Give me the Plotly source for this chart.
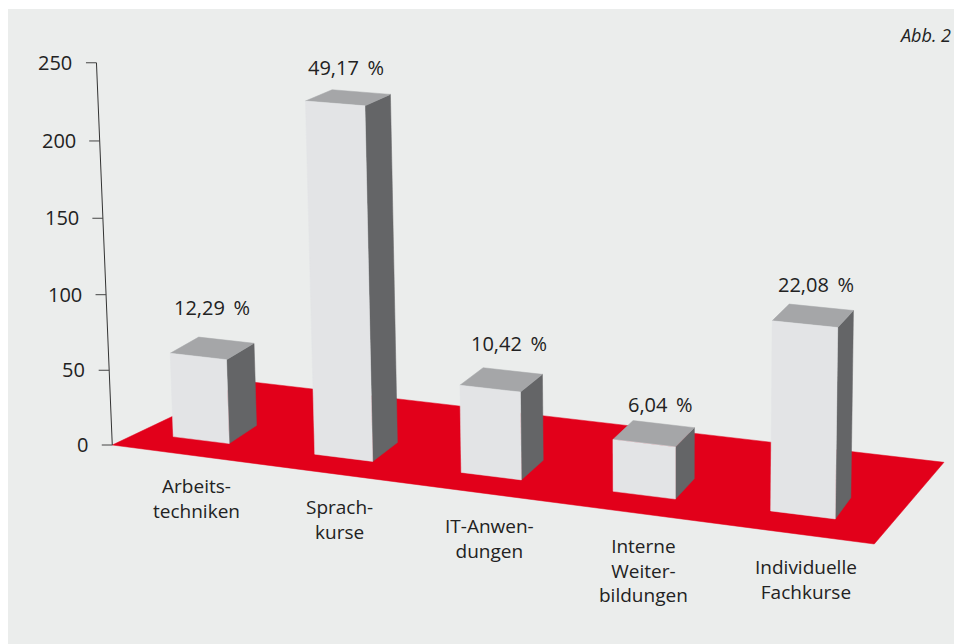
import numpy as np
import plotly.graph_objects as go

# Chart data
categories = ["Arbeits-<br>techniken", "Sprach-<br>kurse", "IT-Anwen-<br>dungen",
              "Interne<br>Weiter-<br>bildungen", "Individuelle<br>Fachkurse"]
shares = [12.29, 49.17, 10.42, 6.04, 22.08]   # percent of all participants
participants_total = 480
axis_ticks = [0, 50, 100, 150, 200, 250]

# Perspective: per-bar height factor, as the bars stand in the scene
height_factor = [0.954, 0.975, 1.14, 1.152, 1.125]

# Camera matrix: scene (category, depth, count) -> page pixels
CAMERA = np.array([
    [1.36521053e+02, 3.27356869e+01, -7.34676357e-02, 2.01134488e+02],
    [9.79429402e+00, -8.88218775e+00, -1.52478267e+00, 4.40067845e+02],
    [-1.73169384e-02, 2.15245981e-02, -1.10479646e-04, 1.00000000e+00],
])
BAR_WIDTH = 0.40
FLOOR = [(-0.483, -0.725), (-0.294, 3.156), (4.602, 3.169), (4.515, -0.834)]

# Label placement on the page
VALUE_LABEL_POS = [(212, 307), (346, 67), (509, 343), (660, 404), (816, 284)]
CATEGORY_LABEL_POS = [(196, 498.5), (339.5, 519), (489, 538), (643.5, 570.5), (806, 579)]

RED, FRONT, SIDE, TOP = "#e2001a", "#e3e4e6", "#646567", "#a5a6a8"
PANEL, INK = "#ebedec", "#222222"
FONT = "Open Sans"


def project(x, depth, z):
    h = CAMERA @ np.array([x, depth, z, 1.0])
    return h[0] / h[2], h[1] / h[2]


def face(points, color):
    px = [project(*p) for p in points + points[:1]]
    return go.Scatter(x=[p[0] for p in px], y=[p[1] for p in px], mode="lines",
                      fill="toself", fillcolor=color,
                      line=dict(color=color, width=0.5),
                      hoverinfo="skip", showlegend=False)


fig = go.Figure()

# Red floor
fig.add_trace(face([(x, d, 0) for x, d in FLOOR], RED))

# Bars: side, top and front faces
for i, share in enumerate(shares):
    h = share / 100 * participants_total * height_factor[i]
    l, r = i - BAR_WIDTH / 2, i + BAR_WIDTH / 2
    fig.add_trace(face([(r, 0, 0), (r, 1, 0), (r, 1, h), (r, 0, h)], SIDE))
    fig.add_trace(face([(l, 0, h), (r, 0, h), (r, 1, h), (l, 1, h)], TOP))
    fig.add_trace(face([(l, 0, 0), (r, 0, 0), (r, 0, h), (l, 0, h)], FRONT))

# Value axis standing on the floor corner
ax_x, ax_d = FLOOR[0]
base = project(ax_x, ax_d, axis_ticks[0])
peak = project(ax_x, ax_d, axis_ticks[-1])
fig.add_trace(go.Scatter(x=[base[0], peak[0]], y=[base[1], peak[1]], mode="lines",
                         line=dict(color="#333333", width=1),
                         hoverinfo="skip", showlegend=False))

annotations = []
for t in axis_ticks:
    px, py = project(ax_x, ax_d, t)
    fig.add_trace(go.Scatter(x=[px - 10.5, px], y=[py, py], mode="lines",
                             line=dict(color="#444444", width=1),
                             hoverinfo="skip", showlegend=False))
    annotations.append(dict(x=px - 22, y=py - 0.5, text=str(t), xanchor="right", yanchor="middle",
                            showarrow=False, font=dict(family=FONT, size=20, color=INK)))

for share, (lx, ly) in zip(shares, VALUE_LABEL_POS):
    annotations.append(dict(x=lx, y=ly, text=f"{share:.2f}".replace(".", ",") + "\u00a0\u2009%",
                            showarrow=False, xanchor="center", yanchor="middle",
                            font=dict(family=FONT, size=20, color=INK)))

for cat, (lx, ly) in zip(categories, CATEGORY_LABEL_POS):
    annotations.append(dict(x=lx, y=ly, text=cat, showarrow=False, align="center",
                            xanchor="center", yanchor="middle",
                            font=dict(family=FONT, size=19, color=INK)))

annotations.append(dict(x=953, y=35, text="<i>Abb. 2</i>", showarrow=False,
                        xanchor="right", yanchor="middle",
                        font=dict(family=FONT, size=18, color=INK)))

fig.update_layout(
    width=954, height=644, margin=dict(l=0, r=0, t=0, b=0),
    paper_bgcolor="white", plot_bgcolor="white", showlegend=False,
    xaxis=dict(range=[0, 954], visible=False, fixedrange=True),
    yaxis=dict(range=[644, 0], visible=False, fixedrange=True),
    shapes=[dict(type="rect", xref="x", yref="y", x0=8, y0=9, x1=954, y1=644,
                 fillcolor=PANEL, line_width=0, layer="below")],
    annotations=annotations,
)

fig.write_html("out.html", config=dict(displayModeBar=False))
